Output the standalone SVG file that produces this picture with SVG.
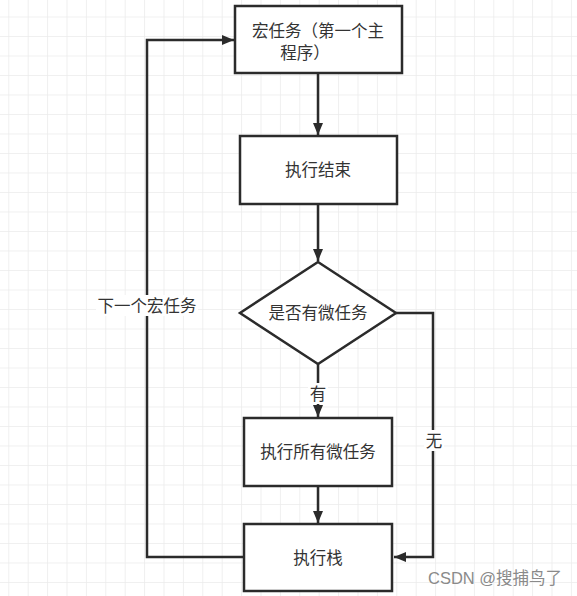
<svg xmlns="http://www.w3.org/2000/svg" width="577" height="596" viewBox="0 0 577 596">
<style>
.node rect,.node polygon{fill:#fff;stroke:#2b2b2b;stroke-width:2.5}
.t{font-family:"Noto Sans CJK SC","Noto Sans",sans-serif;font-size:16.5px;fill:#333;text-anchor:middle}
.edge{fill:none;stroke:#2b2b2b;stroke-width:2.5}
.lbl{fill:#fff}
.wm{font-family:"Liberation Sans","Noto Sans CJK SC",sans-serif;font-size:16.5px;fill:#8a8a8a}
</style>
<defs>
<pattern id="grid" x="8.3" y="16.5" width="19.4" height="19.5" patternUnits="userSpaceOnUse">
<path d="M0 0V19.5M0 0H19.4" fill="none" stroke="#ebebeb" stroke-width="1.5"/>
</pattern>
<marker id="arr" viewBox="0 0 12 10" refX="12" refY="5" markerWidth="12" markerHeight="10" markerUnits="userSpaceOnUse" orient="auto">
<path d="M0 0L12 5L0 10Z" fill="#2b2b2b"/>
</marker>
</defs>
<rect width="577" height="596" fill="#fff"/>
<rect width="577" height="596" fill="url(#grid)"/>
<g id="connectors">
<path class="edge" d="M318 74V135" marker-end="url(#arr)"/>
<path class="edge" d="M318 204V261" marker-end="url(#arr)"/>
<path class="edge" d="M318 364V417" marker-end="url(#arr)"/>
<path class="edge" d="M318 486V523" marker-end="url(#arr)"/>
<path class="edge" d="M396 313H433V557H394" marker-end="url(#arr)"/>
<path class="edge" d="M244 557H147V40H234" marker-end="url(#arr)"/>
<rect class="lbl" x="308" y="383" width="20" height="21"/>
<text class="t" x="318" y="400">有</text>
<rect class="lbl" x="424" y="430" width="20" height="21"/>
<text class="t" x="434" y="447">无</text>
<rect class="lbl" x="96" y="295" width="102" height="21"/>
<text class="t" x="147" y="312">下一个宏任务</text>
</g>
<g id="n1" class="node">
<rect x="235" y="6" width="167" height="67"/>
<text class="t" x="318" y="37">宏任务（第一个主</text>
<text class="t" x="305" y="59">程序）</text>
</g>
<g id="n2" class="node">
<rect x="240" y="136" width="157" height="68"/>
<text class="t" x="318" y="176">执行结束</text>
</g>
<g id="n3" class="node">
<polygon points="318,262 396,313 318,364 240,313"/>
<text class="t" x="318" y="319">是否有微任务</text>
</g>
<g id="n4" class="node">
<rect x="244" y="418" width="148" height="68"/>
<text class="t" x="318" y="458">执行所有微任务</text>
</g>
<g id="n5" class="node">
<rect x="244" y="524" width="148" height="67"/>
<text class="t" x="318" y="564">执行栈</text>
</g>
<text class="wm" x="428" y="584">CSDN @搜捕鸟了</text>
</svg>
